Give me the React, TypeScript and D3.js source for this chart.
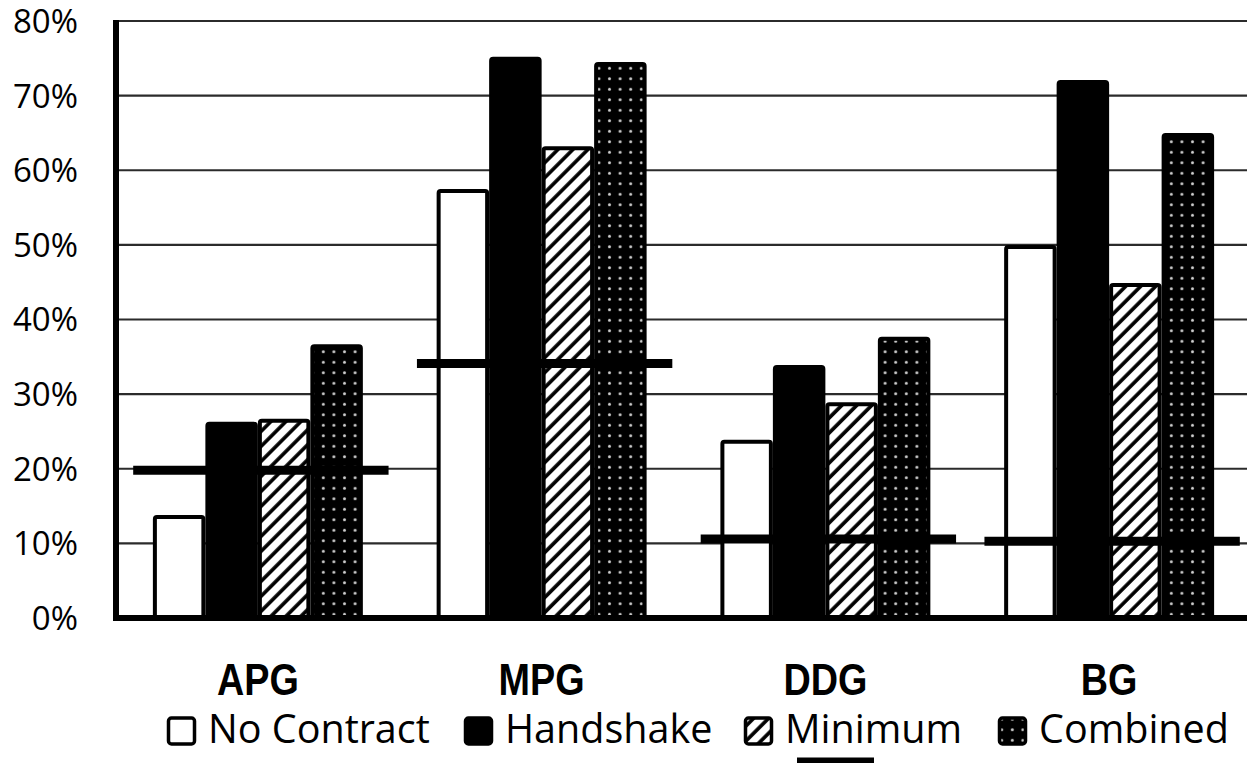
import { useEffect, useRef } from "react";
import * as d3 from "d3";

// values (percent)
const categories = ["APG", "MPG", "DDG", "BG"];
const seriesNames = ["No Contract", "Handshake", "Minimum", "Combined"];
const noContract = [13.8, 57.5, 23.9, 50.0];
const handshake = [26.3, 75.2, 33.9, 72.1];
const minimum = [26.7, 63.2, 28.9, 44.9];
const combined = [36.7, 74.5, 37.7, 65.0];
const benchmark = [19.8, 34.1, 10.6, 10.3];
const yTicks = [0, 10, 20, 30, 40, 50, 60, 70, 80];

const App = () => {
  const svgRef = useRef<SVGSVGElement | null>(null);

  useEffect(() => {
    drawChart();
  }, []);

  const drawChart = () => {
    const w = 1247;
    const h = 763;
    const seriesValues = [noContract, handshake, minimum, combined];
    const fills = ["#fff", "#000", "url(#hatch)", "url(#dots)"];

    const svg = d3.select(svgRef.current).attr("width", w).attr("height", h);
    svg.selectAll("*").remove();

    // patterns
    const defs = svg.append("defs");
    const hatch = defs
      .append("pattern")
      .attr("id", "hatch")
      .attr("patternUnits", "userSpaceOnUse")
      .attr("width", 10.6)
      .attr("height", 10.6)
      .attr("patternTransform", "rotate(45)");
    hatch.append("rect").attr("width", 10.6).attr("height", 10.6).attr("fill", "#fff");
    hatch
      .append("line")
      .attr("x1", 2)
      .attr("x2", 2)
      .attr("y1", -1)
      .attr("y2", 12)
      .attr("stroke", "#000")
      .attr("stroke-width", 3.6);

    const dots = defs
      .append("pattern")
      .attr("id", "dots")
      .attr("patternUnits", "userSpaceOnUse")
      .attr("width", 10.6)
      .attr("height", 10.5);
    dots.append("rect").attr("width", 10.6).attr("height", 10.5).attr("fill", "#000");
    dots.append("circle").attr("cx", 5.3).attr("cy", 5.2).attr("r", 1.5).attr("fill", "#d0d0d0");

    // scales
    const yScale = d3.scaleLinear().domain([0, 80]).range([618, 21]);
    const xScale = d3
      .scaleBand()
      .domain(categories)
      .range([116, 1251])
      .paddingInner(0.26)
      .paddingOuter(0.13);
    const inner = d3.scaleBand().domain(seriesNames).range([0, xScale.bandwidth()]);

    // gridlines
    svg
      .append("g")
      .selectAll("line")
      .data(yTicks.slice(1))
      .join("line")
      .attr("x1", 119)
      .attr("x2", w)
      .attr("y1", (d) => yScale(d))
      .attr("y2", (d) => yScale(d))
      .attr("stroke", "#2b2b2b")
      .attr("stroke-width", 2.2);

    // y labels
    svg
      .append("g")
      .selectAll("text")
      .data(yTicks)
      .join("text")
      .attr("x", 78)
      .attr("y", (d) => yScale(d))
      .attr("dy", "0.36em")
      .attr("text-anchor", "end")
      .attr("font-family", "'Open Sans', sans-serif")
      .attr("font-size", 33)
      .attr("fill", "#000")
      .text((d) => `${d}%`);

    // bars
    seriesNames.forEach((name, si) => {
      svg
        .append("g")
        .selectAll("rect")
        .data(seriesValues[si])
        .join("rect")
        .attr("x", (d, i) => (xScale(categories[i]) as number) + (inner(name) as number) + 2)
        .attr("y", (d) => yScale(d) + 2)
        .attr("width", inner.bandwidth() - 4)
        .attr("height", (d) => yScale(0) - yScale(d) - 2)
        .attr("rx", 2)
        .attr("fill", fills[si])
        .attr("stroke", "#000")
        .attr("stroke-width", 4);
    });

    // benchmark lines
    const step = xScale.step();
    svg
      .append("g")
      .selectAll("line")
      .data(benchmark)
      .join("line")
      .attr("x1", (d, i) => (xScale(categories[i]) as number) + xScale.bandwidth() / 2 - step * 0.45 + 3)
      .attr("x2", (d, i) => (xScale(categories[i]) as number) + xScale.bandwidth() / 2 + step * 0.45 + 3)
      .attr("y1", (d) => yScale(d))
      .attr("y2", (d) => yScale(d))
      .attr("stroke", "#000")
      .attr("stroke-width", 9);

    // axes
    svg
      .append("line")
      .attr("x1", 116)
      .attr("x2", 116)
      .attr("y1", 20)
      .attr("y2", 621)
      .attr("stroke", "#000")
      .attr("stroke-width", 6);
    svg
      .append("line")
      .attr("x1", 113)
      .attr("x2", w)
      .attr("y1", 618)
      .attr("y2", 618)
      .attr("stroke", "#000")
      .attr("stroke-width", 6);

    // category labels (condensed bold look)
    svg
      .append("g")
      .selectAll("text")
      .data(categories)
      .join("text")
      .attr(
        "transform",
        (d) => `translate(${(xScale(d) as number) + xScale.bandwidth() / 2},695) scale(0.84,1)`
      )
      .attr("text-anchor", "middle")
      .attr("font-family", "'Liberation Sans', Arial, sans-serif")
      .attr("font-weight", "bold")
      .attr("font-size", 45)
      .text((d) => d);

    // legend
    const legendX = [167, 464, 744, 998];
    const legend = svg.append("g");
    seriesNames.forEach((name, si) => {
      legend
        .append("rect")
        .attr("x", legendX[si] + 1.5)
        .attr("y", 718)
        .attr("width", 26)
        .attr("height", 26)
        .attr("rx", 3)
        .attr("fill", fills[si])
        .attr("stroke", "#000")
        .attr("stroke-width", 3.5);
      legend
        .append("text")
        .attr("x", legendX[si] + 41)
        .attr("y", 743)
        .attr("font-family", "'Open Sans', sans-serif")
        .attr("font-size", 39.5)
        .attr("fill", "#000")
        .text(name);
    });
    // benchmark legend entry (wrapped, cut off at the bottom)
    legend
      .append("line")
      .attr("x1", 797)
      .attr("x2", 874)
      .attr("y1", 762)
      .attr("y2", 762)
      .attr("stroke", "#000")
      .attr("stroke-width", 9);
  };

  return (
    <div style={{ position: "absolute", left: 0, top: 0, background: "#fff" }}>
      <svg ref={svgRef}></svg>
    </div>
  );
};

export default App;
